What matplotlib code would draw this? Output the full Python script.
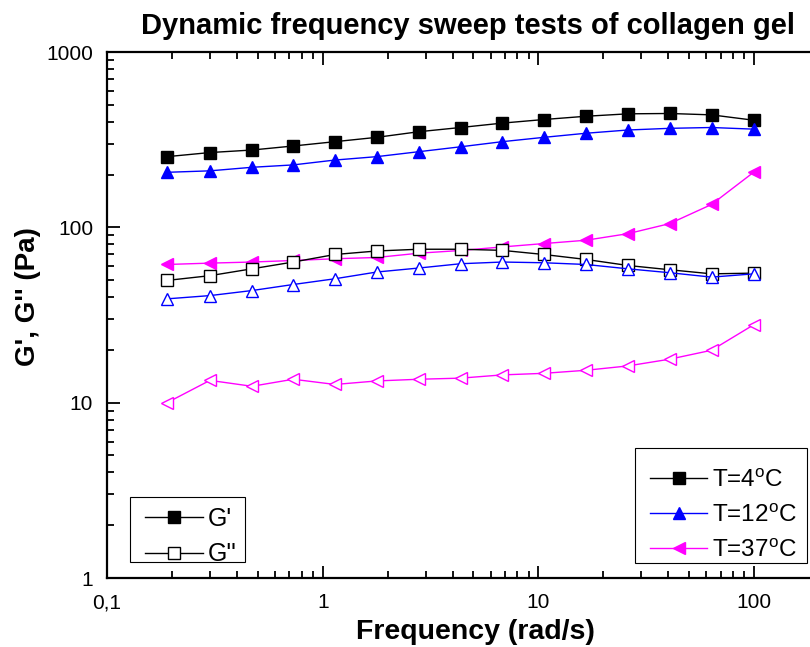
import numpy as np
import matplotlib.pyplot as plt
from matplotlib.lines import Line2D
from matplotlib.patches import Rectangle
from matplotlib.ticker import FixedLocator, FixedFormatter, LogLocator, NullFormatter

plt.rcParams['font.family'] = ['Liberation Sans', 'DejaVu Sans']

# frequency (rad/s)
freq = [0.19, 0.3, 0.47, 0.73, 1.14, 1.78, 2.79, 4.36, 6.8, 10.6, 16.6, 26, 40.6, 63.5, 100]

# storage modulus G' (Pa)
g1_4 = [253, 267, 276, 291, 308, 326, 351, 371, 393, 412, 430, 444, 446, 438, 408]
g1_12 = [206, 210, 220, 227, 242, 253, 270, 288, 308, 326, 344, 359, 367, 371, 363]
g1_37 = [61.4, 62.5, 63.4, 64.7, 66.2, 67.3, 71.2, 73.8, 77.3, 80.8, 84.4, 92, 105, 135, 207]

# loss modulus G'' (Pa)
g2_4 = [49.8, 53, 58, 63.4, 70, 73.3, 75.0, 75.0, 73.9, 70, 65.6, 60.6, 57.3, 54.3, 54.8]
g2_12 = [39.1, 40.8, 43.6, 47.2, 50.9, 55.6, 58.6, 62, 63.4, 62.8, 61.4, 58, 55.1, 52, 54.3]
g2_37 = [10.0, 13.4, 12.4, 13.6, 12.7, 13.3, 13.6, 13.8, 14.4, 14.7, 15.3, 16.2, 17.7, 19.9, 27.9]

W, H = 810, 647
fig = plt.figure(figsize=(W / 100, H / 100), dpi=100)
ax = fig.add_axes([107 / W, 69 / H, 712 / W, 526 / H])

ms = 9
lw = 1
ax.plot(freq, g1_4, '-s', color='black', ms=ms, lw=lw)
ax.plot(freq, g1_12, '-^', color='blue', ms=ms, lw=lw)
ax.plot(freq, g1_37, '-<', color='magenta', ms=ms, lw=lw)
ax.plot(freq, g2_4, '-s', color='black', mfc='white', ms=ms, lw=lw)
ax.plot(freq, g2_12, '-^', color='blue', mfc='white', ms=ms, lw=lw)
ax.plot(freq, g2_37, '-<', color='magenta', mfc='white', ms=ms, lw=lw)

ax.set_xscale('log')
ax.set_yscale('log')
ax.set_xlim(0.1, 200)
ax.set_ylim(1, 1000)

ax.xaxis.set_major_locator(FixedLocator([0.1, 1, 10, 100]))
ax.xaxis.set_major_formatter(FixedFormatter(['0,1', '1', '10', '100']))
ax.yaxis.set_major_locator(FixedLocator([1, 10, 100, 1000]))
ax.yaxis.set_major_formatter(FixedFormatter(['1', '10', '100', '1000']))
ax.xaxis.set_minor_locator(LogLocator(base=10, subs=np.arange(2, 10)))
ax.yaxis.set_minor_locator(LogLocator(base=10, subs=np.arange(2, 10)))
ax.xaxis.set_minor_formatter(NullFormatter())
ax.yaxis.set_minor_formatter(NullFormatter())

ax.tick_params(which='both', direction='in', top=True, right=False, width=1.3)
ax.tick_params(which='major', length=9, labelsize=15)
ax.tick_params(which='minor', length=5)
ax.tick_params(axis='x', which='major', pad=11)
ax.tick_params(axis='y', which='major', pad=10)
for s in ax.spines.values():
    s.set_linewidth(1.6)

ax.set_title('Dynamic frequency sweep tests of collagen gel', fontsize=21,
             fontweight='bold', x=0.5065, pad=13)
ax.set_xlabel('Frequency (rad/s)', fontsize=20.5, fontweight='bold')
ax.xaxis.set_label_coords(0.518, -0.077)
ax.set_ylabel("G', G'' (Pa)", fontsize=20, fontweight='bold')
ax.yaxis.set_label_coords(-0.092, 0.536)

def px(x, y):
    # pixel position (from top-left) to figure fraction
    return (x / W, 1 - y / H)

# legend for modulus type
h1 = [Line2D([], [], color='black', marker='s', ms=ms, lw=lw),
      Line2D([], [], color='black', marker='s', mfc='white', ms=ms, lw=lw)]
leg1 = ax.legend(h1, ["G'", "G''"], loc='upper left', bbox_to_anchor=px(145, 507),
                 bbox_transform=fig.transFigure, borderaxespad=0, borderpad=0,
                 fontsize=18, frameon=False, handlelength=2.3, labelspacing=0.45,
                 handletextpad=0.2)
ax.add_artist(leg1)

# legend for temperature
h2 = [Line2D([], [], color='black', marker='s', ms=ms, lw=lw),
      Line2D([], [], color='blue', marker='^', ms=ms, lw=lw),
      Line2D([], [], color='magenta', marker='<', ms=ms, lw=lw)]
labels2 = ['T=4$^\\mathregular{o}$C', 'T=12$^\\mathregular{o}$C', 'T=37$^\\mathregular{o}$C']
leg2 = ax.legend(h2, labels2, loc='upper left', bbox_to_anchor=px(650, 469),
                 bbox_transform=fig.transFigure, borderaxespad=0, borderpad=0,
                 fontsize=17.5, frameon=False, handlelength=2.35, labelspacing=0.5,
                 handletextpad=0.2)

# legend frames
for x0, y0, x1, y1 in [(130, 497, 245, 562), (635, 448, 807, 563)]:
    fig.patches.append(Rectangle(px(x0, y1), (x1 - x0) / W, (y1 - y0) / H,
                                 transform=fig.transFigure, fill=False,
                                 edgecolor='black', lw=0.8, zorder=5))

fig.savefig('out.png', dpi=100)
